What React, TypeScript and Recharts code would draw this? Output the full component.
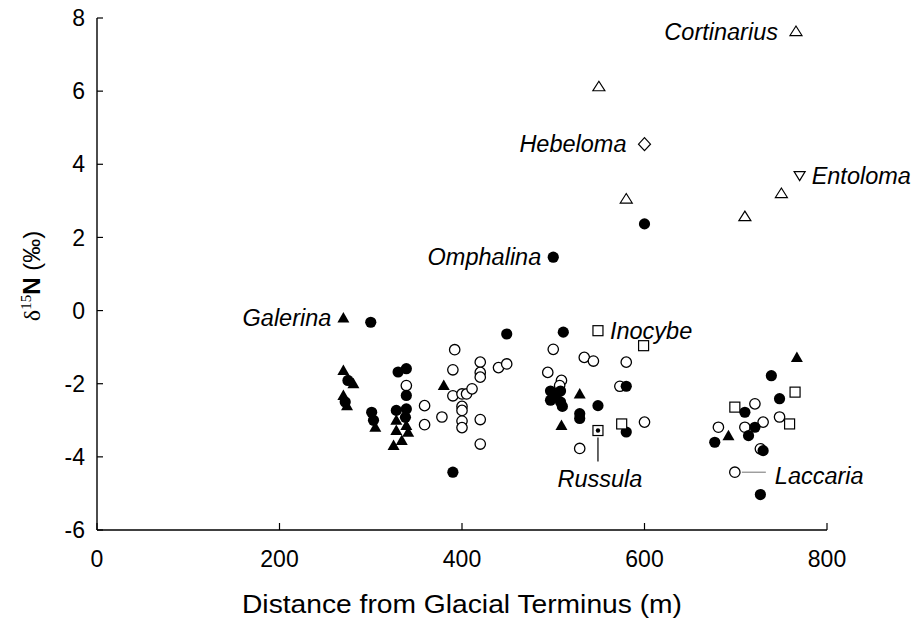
import React from 'react';
import { ScatterChart, Scatter, XAxis, YAxis } from 'recharts';

// ---- data (distance m, delta15N permil) ----
const xTicks = [0, 200, 400, 600, 800];
const yTicks = [-6, -4, -2, 0, 2, 4, 6, 8];

const filledCircles = [
  { x: 300, y: -0.32 }, { x: 275, y: -1.91 }, { x: 272, y: -2.5 }, { x: 301, y: -2.78 },
  { x: 303, y: -3.0 }, { x: 330, y: -1.68 }, { x: 339, y: -1.59 }, { x: 339, y: -2.32 },
  { x: 328, y: -2.73 }, { x: 339, y: -2.69 }, { x: 338, y: -2.92 }, { x: 390, y: -4.42 },
  { x: 449, y: -0.64 }, { x: 511, y: -0.59 }, { x: 500, y: 1.46 }, { x: 600, y: 2.37 },
  { x: 497, y: -2.2 }, { x: 497, y: -2.45 }, { x: 508, y: -2.2 }, { x: 508, y: -2.5 },
  { x: 503, y: -2.35 }, { x: 510, y: -2.62 }, { x: 580, y: -2.07 }, { x: 549, y: -2.6 },
  { x: 529, y: -2.82 }, { x: 529, y: -2.95 }, { x: 580, y: -3.32 }, { x: 739, y: -1.78 },
  { x: 748, y: -2.41 }, { x: 710, y: -2.78 }, { x: 721, y: -3.19 }, { x: 714, y: -3.42 },
  { x: 677, y: -3.6 }, { x: 730, y: -3.83 }, { x: 727, y: -5.03 },
];

const openCircles = [
  { x: 339, y: -2.05 }, { x: 359, y: -2.6 }, { x: 359, y: -3.12 }, { x: 378, y: -2.91 },
  { x: 392, y: -1.07 }, { x: 390, y: -1.62 }, { x: 420, y: -1.41 }, { x: 420, y: -1.69 },
  { x: 420, y: -1.82 }, { x: 440, y: -1.56 }, { x: 449, y: -1.46 }, { x: 390, y: -2.33 },
  { x: 400, y: -2.28 }, { x: 405, y: -2.28 }, { x: 411, y: -2.14 }, { x: 400, y: -2.62 },
  { x: 400, y: -2.73 }, { x: 400, y: -3.02 }, { x: 400, y: -3.2 }, { x: 420, y: -2.98 },
  { x: 420, y: -3.65 }, { x: 500, y: -1.06 }, { x: 534, y: -1.28 }, { x: 544, y: -1.38 },
  { x: 580, y: -1.41 }, { x: 494, y: -1.69 }, { x: 509, y: -1.91 }, { x: 507, y: -2.05 },
  { x: 573, y: -2.07 }, { x: 600, y: -3.05 }, { x: 529, y: -3.77 }, { x: 721, y: -2.55 },
  { x: 748, y: -2.91 }, { x: 730, y: -3.05 }, { x: 710, y: -3.19 }, { x: 681, y: -3.19 },
  { x: 727, y: -3.78 }, { x: 699, y: -4.42 },
];

const filledTriangles = [
  { x: 270, y: -0.2 }, { x: 270, y: -1.64 }, { x: 281, y: -2.0 }, { x: 270, y: -2.32 },
  { x: 274, y: -2.6 }, { x: 305, y: -3.19 }, { x: 328, y: -3.0 }, { x: 339, y: -3.14 },
  { x: 328, y: -3.28 }, { x: 341, y: -3.33 }, { x: 325, y: -3.69 }, { x: 334, y: -3.55 },
  { x: 380, y: -2.05 }, { x: 529, y: -2.28 }, { x: 509, y: -3.14 }, { x: 767, y: -1.28 },
  { x: 692, y: -3.42 },
];

const openTriangles = [
  { x: 766, y: 7.63 }, { x: 550, y: 6.12 }, { x: 580, y: 3.05 }, { x: 750, y: 3.2 }, { x: 710, y: 2.57 },
];

const openSquares = [
  { x: 549, y: -0.55 }, { x: 599, y: -0.96 }, { x: 575, y: -3.1 }, { x: 765, y: -2.23 },
  { x: 699, y: -2.64 }, { x: 759, y: -3.1 },
];

const hebelomaPoints = [{ x: 600, y: 4.55 }];
const entolomaPoints = [{ x: 770, y: 3.69 }];
const russulaPoints = [{ x: 549, y: -3.28 }];

const speciesLabels = [
  { x: 766, y: 7.63, name: 'Cortinarius', side: 'left' },
  { x: 600, y: 4.55, name: 'Hebeloma', side: 'left' },
  { x: 770, y: 3.69, name: 'Entoloma', side: 'right' },
  { x: 500, y: 1.46, name: 'Omphalina', side: 'left' },
  { x: 270, y: -0.2, name: 'Galerina', side: 'left' },
  { x: 549, y: -0.55, name: 'Inocybe', side: 'right' },
  { x: 549, y: -3.28, name: 'Russula', side: 'below' },
  { x: 699, y: -4.42, name: 'Laccaria', side: 'line' },
];

const FONT = '"Liberation Sans", Arial, Helvetica, sans-serif';
const SERIF = '"Liberation Serif", "Times New Roman", serif';

const FilledCircle = (p: any) => <circle cx={p.cx} cy={p.cy} r={5.6} fill="#000" />;
const OpenCircle = (p: any) => (
  <circle cx={p.cx} cy={p.cy} r={5.2} fill="#fff" stroke="#000" strokeWidth={1.3} />
);
const FilledTriangle = (p: any) => (
  <path d={`M${p.cx},${p.cy - 6} L${p.cx + 6},${p.cy + 4.5} L${p.cx - 6},${p.cy + 4.5} Z`} fill="#000" />
);
const OpenTriangle = (p: any) => (
  <path d={`M${p.cx},${p.cy - 5.5} L${p.cx + 6},${p.cy + 4} L${p.cx - 6},${p.cy + 4} Z`} fill="#fff" stroke="#000" strokeWidth={1.2} />
);
const OpenTriangleDown = (p: any) => (
  <path d={`M${p.cx},${p.cy + 5} L${p.cx + 5.5},${p.cy - 4} L${p.cx - 5.5},${p.cy - 4} Z`} fill="#fff" stroke="#000" strokeWidth={1.2} />
);
const OpenSquare = (p: any) => (
  <rect x={p.cx - 5} y={p.cy - 5} width={10} height={10} fill="#fff" stroke="#000" strokeWidth={1.2} />
);
const OpenDiamond = (p: any) => (
  <path d={`M${p.cx},${p.cy - 6.5} L${p.cx + 6},${p.cy} L${p.cx},${p.cy + 6.5} L${p.cx - 6},${p.cy} Z`} fill="#fff" stroke="#000" strokeWidth={1.2} />
);
const SquareDot = (p: any) => (
  <g>
    <rect x={p.cx - 5} y={p.cy - 5} width={10} height={10} fill="#fff" stroke="#000" strokeWidth={1.2} />
    <circle cx={p.cx} cy={p.cy} r={2.2} fill="#000" />
  </g>
);

const SpeciesLabel = (p: any) => {
  const { cx, cy, payload } = p;
  const common = { fontFamily: FONT, fontSize: 23.5, fontStyle: 'italic' as const, fill: '#000' };
  if (payload.side === 'left') {
    const gap = payload.name === 'Cortinarius' || payload.name === 'Hebeloma' ? 18 : 12;
    return (
      <text x={cx - gap} y={cy + 8} textAnchor="end" {...common}>{payload.name}</text>
    );
  }
  if (payload.side === 'right') {
    return (
      <text x={cx + 12} y={cy + 8} textAnchor="start" {...common}>{payload.name}</text>
    );
  }
  if (payload.side === 'below') {
    return (
      <g>
        <line x1={cx} y1={cy + 7} x2={cx} y2={cy + 31} stroke="#000" strokeWidth={1.2} />
        <text x={cx + 2} y={cy + 56} textAnchor="middle" {...common}>{payload.name}</text>
      </g>
    );
  }
  return (
    <g>
      <line x1={cx + 7} y1={cy} x2={cx + 31} y2={cy} stroke="#888" strokeWidth={1.2} />
      <text x={cx + 40} y={cy + 12} textAnchor="start" {...common}>{payload.name}</text>
    </g>
  );
};

const YLabel = () => (
  <text transform="translate(40,276) rotate(-90)" textAnchor="middle" fontSize={24} fontFamily={FONT} fill="#000">
    <tspan fontFamily={SERIF}>δ</tspan>
    <tspan fontFamily={SERIF} fontSize={15} dy={-9}>15</tspan>
    <tspan fontWeight="bold" dy={9}>N</tspan>
    <tspan> (‰)</tspan>
  </text>
);

const XLabel = (props: any) => {
  const vb = props.viewBox || { x: 97, width: 730 };
  return (
    <text
      x={vb.x + vb.width / 2}
      y={613}
      textAnchor="middle"
      fontSize={25}
      fontFamily={FONT}
      fill="#000"
      textLength={440}
      lengthAdjust="spacingAndGlyphs"
    >
      Distance from Glacial Terminus (m)
    </text>
  );
};

export default function App() {
  const tickStyle = { fontSize: 23, fill: '#000', fontFamily: FONT };
  return (
    <div style={{ position: 'absolute', left: 0, top: 0, background: '#fff' }}>
      <ScatterChart width={916} height={621} margin={{ top: 18, right: 89, bottom: 0, left: 0 }}>
        <XAxis
          type="number"
          dataKey="x"
          domain={[0, 800]}
          ticks={xTicks}
          interval={0}
          height={91}
          tickSize={-7}
          tickMargin={28}
          tick={tickStyle}
          axisLine={{ stroke: '#000', strokeWidth: 1.4 }}
          tickLine={{ stroke: '#000', strokeWidth: 1.2 }}
          label={{ content: XLabel }}
        />
        <YAxis
          type="number"
          dataKey="y"
          domain={[-6, 8]}
          ticks={yTicks}
          interval={0}
          width={97}
          tickSize={-6}
          tickMargin={18}
          tick={tickStyle}
          axisLine={{ stroke: '#000', strokeWidth: 1.4 }}
          tickLine={{ stroke: '#000', strokeWidth: 1.2 }}
          label={{ content: YLabel }}
        />
        <Scatter data={openCircles} shape={OpenCircle} isAnimationActive={false} />
        <Scatter data={filledCircles} shape={FilledCircle} isAnimationActive={false} />
        <Scatter data={filledTriangles} shape={FilledTriangle} isAnimationActive={false} />
        <Scatter data={openSquares} shape={OpenSquare} isAnimationActive={false} />
        <Scatter data={openTriangles} shape={OpenTriangle} isAnimationActive={false} />
        <Scatter data={hebelomaPoints} shape={OpenDiamond} isAnimationActive={false} />
        <Scatter data={entolomaPoints} shape={OpenTriangleDown} isAnimationActive={false} />
        <Scatter data={russulaPoints} shape={SquareDot} isAnimationActive={false} />
        <Scatter data={speciesLabels} shape={SpeciesLabel} isAnimationActive={false} />
      </ScatterChart>
    </div>
  );
}
